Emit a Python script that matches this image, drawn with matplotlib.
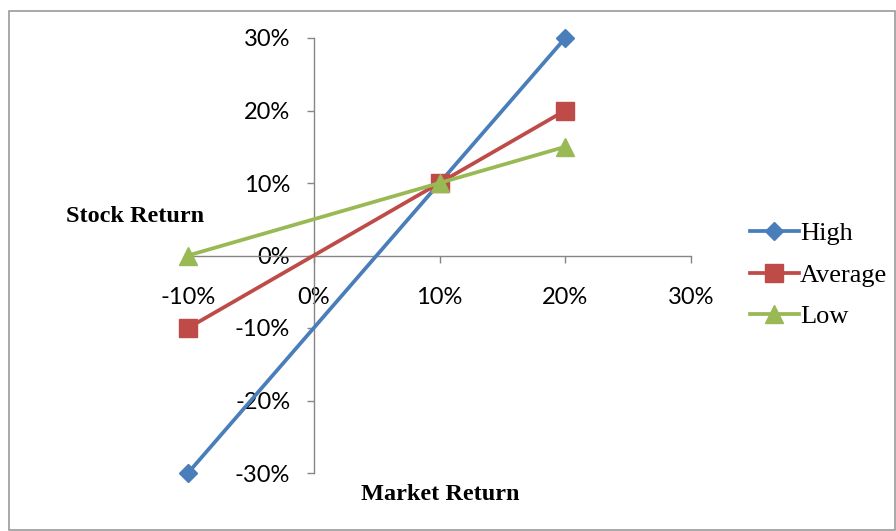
import matplotlib
matplotlib.use("Agg")
import matplotlib.pyplot as plt
from matplotlib.patches import Rectangle
from matplotlib.ticker import FuncFormatter, MultipleLocator

market = [-10, 10, 20]
high = [-30, 10, 30]
average = [-10, 10, 20]
low = [0, 10, 15]
series_names = ["High", "Average", "Low"]
colors = ["#4A7EBB", "#BE4B48", "#98B954"]

W, H = 896, 531
fig = plt.figure(figsize=(W / 100, H / 100), dpi=100)
fig.patches.append(Rectangle((9 / W, 1 - 530 / H), 886 / W, 519 / H, transform=fig.transFigure,
                             fill=False, edgecolor="#9A9A9A", linewidth=1.2))

ax = fig.add_axes([188 / W, 1 - 473 / H, (691 - 188) / W, (473 - 38) / H])
ax.plot(market, high, color=colors[0], lw=2.7, marker="D", ms=9, label=series_names[0], zorder=3, clip_on=False)
ax.plot(market, average, color=colors[1], lw=2.7, marker="s", ms=12.5, label=series_names[1], zorder=4, clip_on=False)
ax.plot(market, low, color=colors[2], lw=2.7, marker="^", ms=12.5, label=series_names[2], zorder=5, clip_on=False)

ax.set_xlim(-10, 30)
ax.set_ylim(-30, 30)
ax.xaxis.set_major_locator(MultipleLocator(10))
ax.yaxis.set_major_locator(MultipleLocator(10))
fmt = FuncFormatter(lambda v, p: f"{v:.0f}%")
ax.xaxis.set_major_formatter(fmt)
ax.yaxis.set_major_formatter(fmt)

for s in ["top", "right"]:
    ax.spines[s].set_visible(False)
ax.spines["left"].set_position(("data", 0))
ax.spines["bottom"].set_position(("data", 0))
for s in ["left", "bottom"]:
    ax.spines[s].set_color("#868686")
    ax.spines[s].set_linewidth(1.0)
ax.tick_params(axis="both", direction="out", length=5, width=1.0, color="#868686",
               labelsize=17, labelcolor="black")
ax.tick_params(axis="x", pad=18)
ax.tick_params(axis="y", pad=12)
for lbl in ax.get_xticklabels() + ax.get_yticklabels():
    lbl.set_fontfamily("Lato")
ax.patch.set_alpha(0)

fig.text(135 / W, 1 - 216 / H, "Stock Return", ha="center", va="center",
         fontfamily="Liberation Serif", fontweight="bold", fontsize=17.5)
fig.text(440 / W, 1 - 494 / H, "Market Return", ha="center", va="center",
         fontfamily="Liberation Serif", fontweight="bold", fontsize=17.5)

leg = fig.legend(loc="center left", bbox_to_anchor=(750 / W, 1 - 275 / H), frameon=False,
                 prop={"family": "Liberation Serif", "size": 19}, handlelength=1.85,
                 handletextpad=0.05, labelspacing=0.69, borderpad=0, borderaxespad=0)

fig.savefig("out.png", dpi=100)
